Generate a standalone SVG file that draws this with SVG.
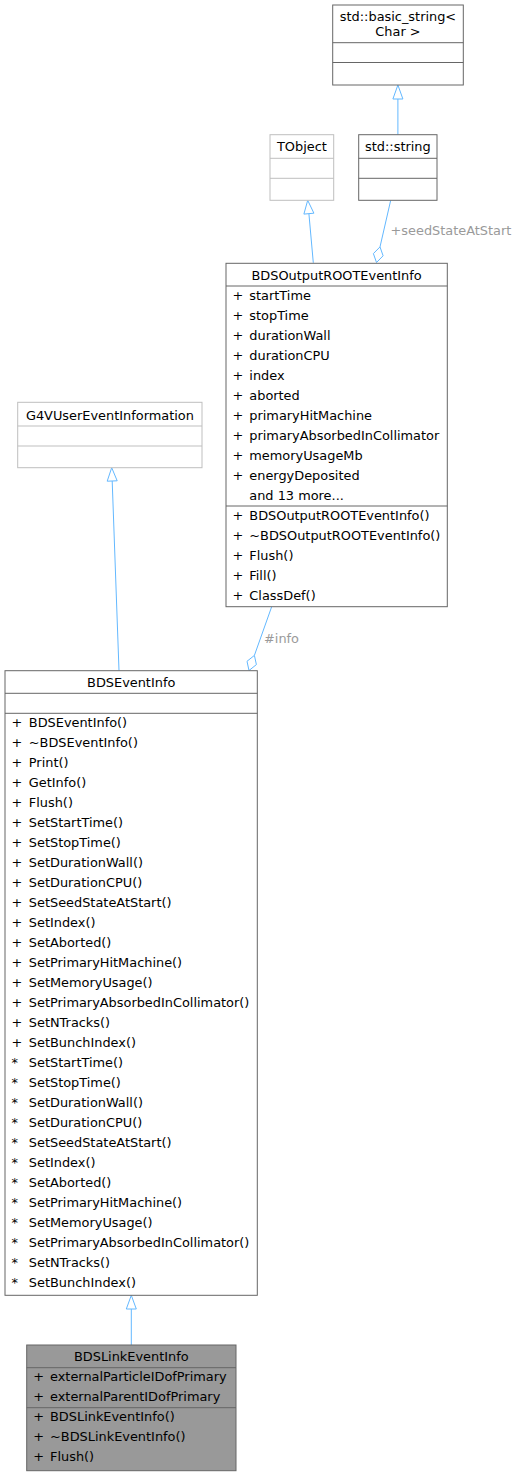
<svg xmlns="http://www.w3.org/2000/svg" width="515" height="1476" viewBox="0 0 515 1476">
<style>
text{font-family:"DejaVu Sans","Liberation Sans",sans-serif;font-size:12.9px;fill:#000}
.c{text-anchor:middle}
.lbl{fill:#9a9a9a}
.box{fill:#fff;stroke:#666;stroke-width:1}
.dim{fill:#fff;stroke:#bfbfbf;stroke-width:1}
.sel{fill:#999;stroke:#666;stroke-width:1}
.ln{stroke:#666;stroke-width:1}
.lnd{stroke:#bfbfbf;stroke-width:1}
.e{fill:none;stroke:#63b8ff;stroke-width:1}
.h{fill:#fff;stroke:#63b8ff;stroke-width:1}
</style>
<g id="connectors">
<line class="e" x1="397.9" y1="134.7" x2="397.9" y2="99"/>
<polygon class="h" points="397.9,85,392.9,99,402.9,99"/>
<line class="e" x1="313.3" y1="262.8" x2="308.9" y2="213.6"/>
<polygon class="h" points="307.7,200.3,313.9,213.2,303.9,214.1"/>
<line class="e" x1="390.7" y1="200.3" x2="380" y2="246.9"/>
<polygon class="h" points="376.5,262.5,373.4,253.6,380,246.9,383.1,255.8"/>
<text class="lbl" x="390.5" y="234.5">+seedStateAtStart</text>
<line class="e" x1="119" y1="670.7" x2="112.2" y2="481"/>
<polygon class="h" points="111.7,467.7,117.2,480.8,107.2,481.2"/>
<line class="e" x1="271.7" y1="606.7" x2="254.4" y2="655.4"/>
<polygon class="h" points="249,670.5,247,661.3,254.4,655.4,256.4,664.6"/>
<text class="lbl" x="264" y="643">#info</text>
<line class="e" x1="131.3" y1="1345" x2="131.3" y2="1309"/>
<polygon class="h" points="131.3,1295.3,126.3,1309,136.3,1309"/>
</g>
<g id="basic_string">
<rect class="box" x="332.7" y="5" width="130.6" height="80"/>
<text class="c" x="398" y="21">std::basic_string&lt;</text>
<text class="c" x="398" y="36">Char &gt;</text>
<line class="ln" x1="332.7" y1="42.7" x2="463.3" y2="42.7"/>
<line class="ln" x1="332.7" y1="62.5" x2="463.3" y2="62.5"/>
</g>
<g id="std_string">
<rect class="box" x="358.7" y="134.7" width="78.3" height="65.6"/>
<text class="c" x="397.9" y="150.5">std::string</text>
<line class="ln" x1="358.7" y1="158.3" x2="437" y2="158.3"/>
<line class="ln" x1="358.7" y1="178.3" x2="437" y2="178.3"/>
</g>
<g id="TObject">
<rect class="dim" x="270" y="134.7" width="63.7" height="65.6"/>
<text class="c" x="301.9" y="150.5">TObject</text>
<line class="lnd" x1="270" y1="158.3" x2="333.7" y2="158.3"/>
<line class="lnd" x1="270" y1="178.3" x2="333.7" y2="178.3"/>
</g>
<g id="BDSOutputROOTEventInfo">
<rect class="box" x="226" y="263.3" width="221.3" height="343.4"/>
<text class="c" x="336.6" y="279.5">BDSOutputROOTEventInfo</text>
<line class="ln" x1="226" y1="286" x2="447.3" y2="286"/>
<text x="232.5" y="299.5">+<tspan x="249.3">startTime</tspan></text>
<text x="232.5" y="319.5">+<tspan x="249.3">stopTime</tspan></text>
<text x="232.5" y="339.5">+<tspan x="249.3">durationWall</tspan></text>
<text x="232.5" y="359.5">+<tspan x="249.3">durationCPU</tspan></text>
<text x="232.5" y="379.5">+<tspan x="249.3">index</tspan></text>
<text x="232.5" y="399.5">+<tspan x="249.3">aborted</tspan></text>
<text x="232.5" y="419.5">+<tspan x="249.3">primaryHitMachine</tspan></text>
<text x="232.5" y="439.5">+<tspan x="249.3">primaryAbsorbedInCollimator</tspan></text>
<text x="232.5" y="459.5">+<tspan x="249.3">memoryUsageMb</tspan></text>
<text x="232.5" y="479.5">+<tspan x="249.3">energyDeposited</tspan></text>
<text x="249.3" y="499.5">and 13 more...</text>
<line class="ln" x1="226" y1="506" x2="447.3" y2="506"/>
<text x="232.5" y="519.5">+<tspan x="249.3">BDSOutputROOTEventInfo()</tspan></text>
<text x="232.5" y="539.5">+<tspan x="249.3">~BDSOutputROOTEventInfo()</tspan></text>
<text x="232.5" y="559.5">+<tspan x="249.3">Flush()</tspan></text>
<text x="232.5" y="579.5">+<tspan x="249.3">Fill()</tspan></text>
<text x="232.5" y="599.5">+<tspan x="249.3">ClassDef()</tspan></text>
</g>
<g id="G4VUserEventInformation">
<rect class="dim" x="17.7" y="402.3" width="184.3" height="65.4"/>
<text class="c" x="109.9" y="419.5">G4VUserEventInformation</text>
<line class="lnd" x1="17.7" y1="426" x2="202" y2="426"/>
<line class="lnd" x1="17.7" y1="446" x2="202" y2="446"/>
</g>
<g id="BDSEventInfo">
<rect class="box" x="5" y="670.7" width="252.3" height="624.6"/>
<text class="c" x="131.2" y="687">BDSEventInfo</text>
<line class="ln" x1="5" y1="693.3" x2="257.3" y2="693.3"/>
<line class="ln" x1="5" y1="713.3" x2="257.3" y2="713.3"/>
<text x="11.5" y="727.3">+<tspan x="28.8">BDSEventInfo()</tspan></text>
<text x="11.5" y="747.3">+<tspan x="28.8">~BDSEventInfo()</tspan></text>
<text x="11.5" y="767.3">+<tspan x="28.8">Print()</tspan></text>
<text x="11.5" y="787.3">+<tspan x="28.8">GetInfo()</tspan></text>
<text x="11.5" y="807.3">+<tspan x="28.8">Flush()</tspan></text>
<text x="11.5" y="827.3">+<tspan x="28.8">SetStartTime()</tspan></text>
<text x="11.5" y="847.3">+<tspan x="28.8">SetStopTime()</tspan></text>
<text x="11.5" y="867.3">+<tspan x="28.8">SetDurationWall()</tspan></text>
<text x="11.5" y="887.3">+<tspan x="28.8">SetDurationCPU()</tspan></text>
<text x="11.5" y="907.3">+<tspan x="28.8">SetSeedStateAtStart()</tspan></text>
<text x="11.5" y="927.3">+<tspan x="28.8">SetIndex()</tspan></text>
<text x="11.5" y="947.3">+<tspan x="28.8">SetAborted()</tspan></text>
<text x="11.5" y="967.3">+<tspan x="28.8">SetPrimaryHitMachine()</tspan></text>
<text x="11.5" y="987.3">+<tspan x="28.8">SetMemoryUsage()</tspan></text>
<text x="11.5" y="1007.3">+<tspan x="28.8">SetPrimaryAbsorbedInCollimator()</tspan></text>
<text x="11.5" y="1027.3">+<tspan x="28.8">SetNTracks()</tspan></text>
<text x="11.5" y="1047.3">+<tspan x="28.8">SetBunchIndex()</tspan></text>
<text x="11.5" y="1067.3">*<tspan x="28.8">SetStartTime()</tspan></text>
<text x="11.5" y="1087.3">*<tspan x="28.8">SetStopTime()</tspan></text>
<text x="11.5" y="1107.3">*<tspan x="28.8">SetDurationWall()</tspan></text>
<text x="11.5" y="1127.3">*<tspan x="28.8">SetDurationCPU()</tspan></text>
<text x="11.5" y="1147.3">*<tspan x="28.8">SetSeedStateAtStart()</tspan></text>
<text x="11.5" y="1167.3">*<tspan x="28.8">SetIndex()</tspan></text>
<text x="11.5" y="1187.3">*<tspan x="28.8">SetAborted()</tspan></text>
<text x="11.5" y="1207.3">*<tspan x="28.8">SetPrimaryHitMachine()</tspan></text>
<text x="11.5" y="1227.3">*<tspan x="28.8">SetMemoryUsage()</tspan></text>
<text x="11.5" y="1247.3">*<tspan x="28.8">SetPrimaryAbsorbedInCollimator()</tspan></text>
<text x="11.5" y="1267.3">*<tspan x="28.8">SetNTracks()</tspan></text>
<text x="11.5" y="1287.3">*<tspan x="28.8">SetBunchIndex()</tspan></text>
</g>
<g id="BDSLinkEventInfo">
<rect class="sel" x="26.7" y="1345" width="209.3" height="125.7"/>
<text class="c" x="131.3" y="1361">BDSLinkEventInfo</text>
<line class="ln" x1="26.7" y1="1367.7" x2="236" y2="1367.7"/>
<text x="33.2" y="1381.2">+<tspan x="50">externalParticleIDofPrimary</tspan></text>
<text x="33.2" y="1401.2">+<tspan x="50">externalParentIDofPrimary</tspan></text>
<line class="ln" x1="26.7" y1="1407.7" x2="236" y2="1407.7"/>
<text x="33.2" y="1421.2">+<tspan x="50">BDSLinkEventInfo()</tspan></text>
<text x="33.2" y="1441.2">+<tspan x="50">~BDSLinkEventInfo()</tspan></text>
<text x="33.2" y="1461.2">+<tspan x="50">Flush()</tspan></text>
</g>
</svg>
